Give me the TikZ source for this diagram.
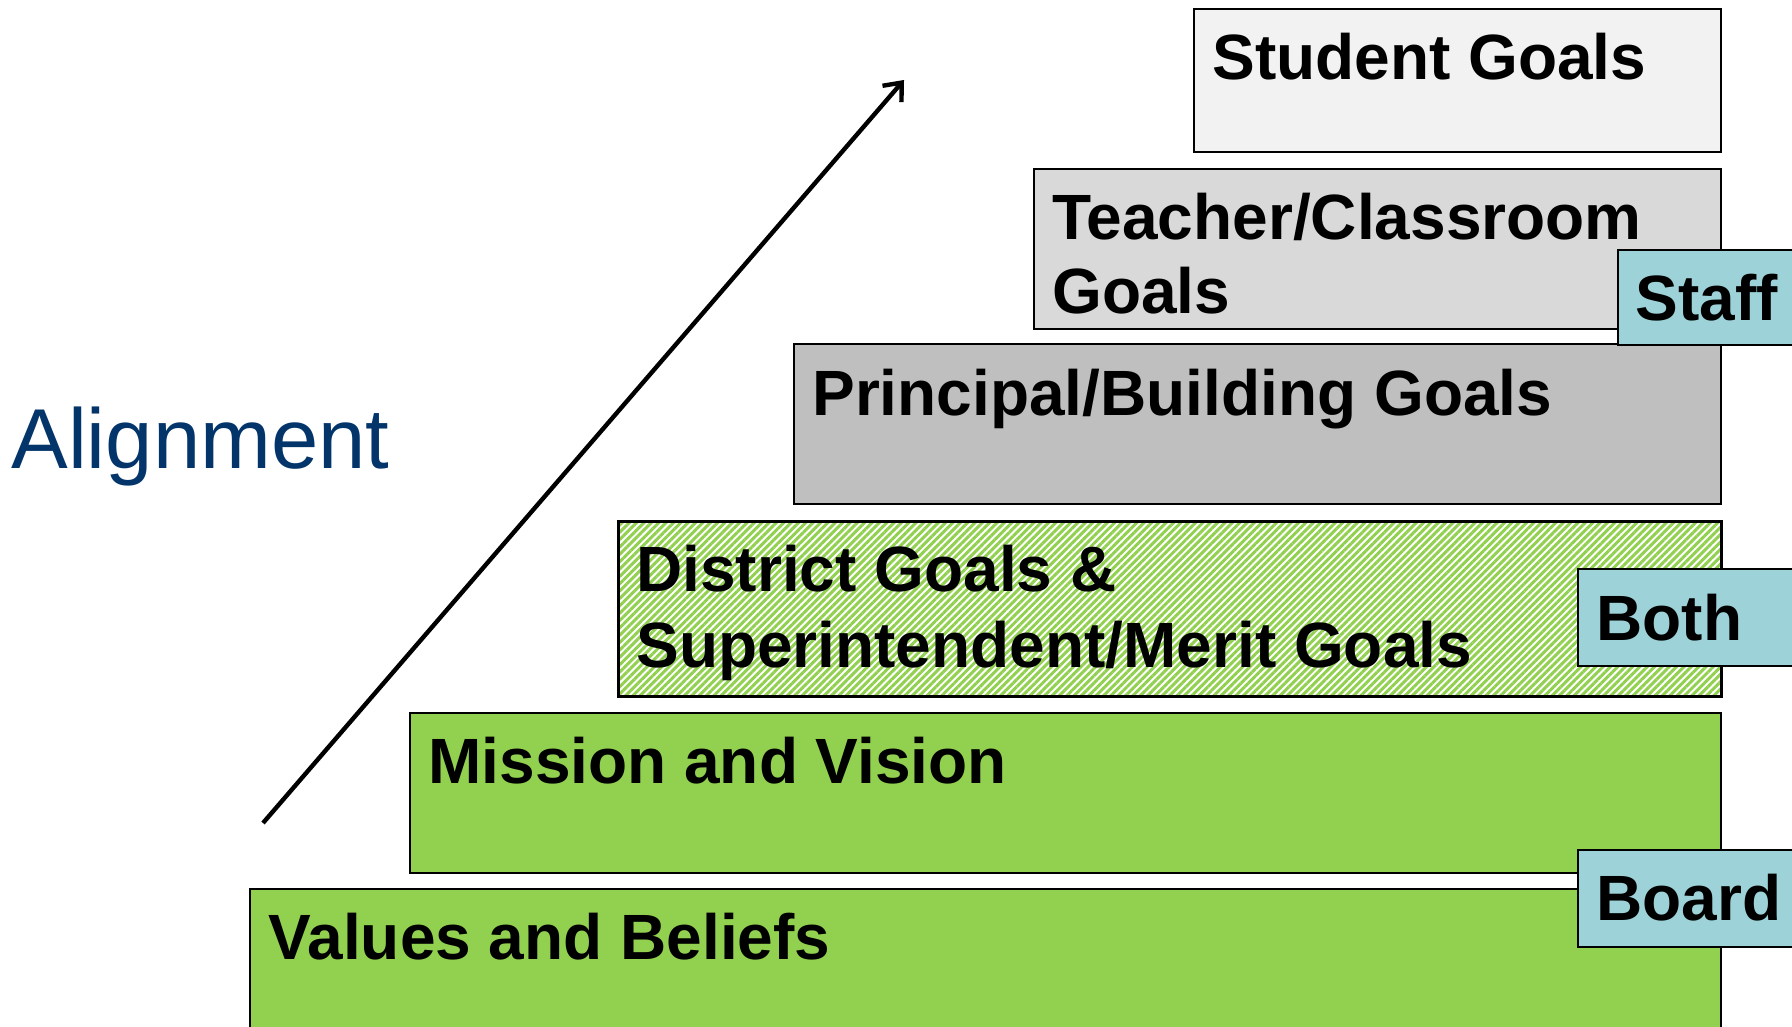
\documentclass[tikz,border=0pt]{standalone}
\usepackage{fontspec}
\setmainfont{Liberation Sans}
\usetikzlibrary{arrows.meta,patterns.meta}
\definecolor{lvlgreen}{HTML}{92D050}
\definecolor{gray1}{HTML}{F2F2F2}
\definecolor{gray2}{HTML}{D9D9D9}
\definecolor{gray3}{HTML}{BFBFBF}
\definecolor{tagblue}{HTML}{9DD3D8}
\definecolor{alignblue}{HTML}{03356A}
\begin{document}
\begin{tikzpicture}[x=0.5pt,y=-0.5pt,
  box/.style={draw=black,line width=1.2pt,inner sep=0pt,anchor=north west},
  tagbox/.style={box,fill=tagblue},
  lbl/.style={anchor=base west,inner sep=0pt,text=black,font=\bfseries\fontsize{32}{38}\selectfont}]
\useasboundingbox (0,0) rectangle (1792,1027);
\clip (0,0) rectangle (1792,1027);
% level boxes
\node[box,fill=lvlgreen,minimum width=735.5pt,minimum height=80pt] (values) at (249,888) {};
\node[box,fill=lvlgreen,minimum width=655.5pt,minimum height=80pt] (mission) at (409,712) {};
\node[box,preaction={fill=white},pattern={Lines[angle=45,distance=2.6pt,line width=1.5pt]},pattern color=lvlgreen,minimum width=551.5pt,minimum height=87.5pt] (district) at (617,520) {};
\node[box,fill=gray3,minimum width=463.5pt,minimum height=80pt] (principal) at (793,343) {};
\node[box,fill=gray2,minimum width=343.5pt,minimum height=80pt] (teacher) at (1033,168) {};
\node[box,fill=gray1,minimum width=263.5pt,minimum height=71.5pt] (student) at (1193,8) {};
% tags
\node[tagbox,minimum width=100pt,minimum height=47.5pt] (staff) at (1617,249) {};
\node[tagbox,minimum width=120pt,minimum height=48.5pt] (both) at (1577,568) {};
\node[tagbox,minimum width=120pt,minimum height=48.5pt] (board) at (1577,849) {};
% labels
\node[lbl] (tvalues) at ([shift={(19,71)}]values.north west) {Values and Beliefs};
\node[lbl] (tmission) at ([shift={(19,71)}]mission.north west) {Mission and Vision};
\node[lbl] (tdistrict1) at ([shift={(19,71)}]district.north west) {District Goals \&};
\node[lbl] (tdistrict2) at ([shift={(19,147)}]district.north west) {Superintendent/Merit Goals};
\node[lbl] (tprincipal) at ([shift={(19,72)}]principal.north west) {Principal/Building Goals};
\node[lbl] (tteacher1) at ([shift={(19,72)}]teacher.north west) {Teacher/Classroom};
\node[lbl] (tteacher2) at ([shift={(19,146)}]teacher.north west) {Goals};
\node[lbl] (tstudent) at ([shift={(19,72)}]student.north west) {Student Goals};
\node[lbl] (tstaff) at ([shift={(18,71)}]staff.north west) {Staff};
\node[lbl] (tboth) at ([shift={(19,72)}]both.north west) {Both};
\node[lbl] (tboard) at ([shift={(19,71)}]board.north west) {Board};
% alignment
\node[anchor=base west,inner sep=0pt,text=alignblue,font=\fontsize{42.5}{50}\selectfont] (align) at (11,468) {Alignment};
\coordinate (arrS) at (263,823);
\coordinate (arrE) at (904,80);
\draw[line width=2.2pt,-{Straight Barb[length=7.5pt,width=12.5pt,line width=2.2pt]}] (arrS) -- (arrE);
\end{tikzpicture}
\end{document}
